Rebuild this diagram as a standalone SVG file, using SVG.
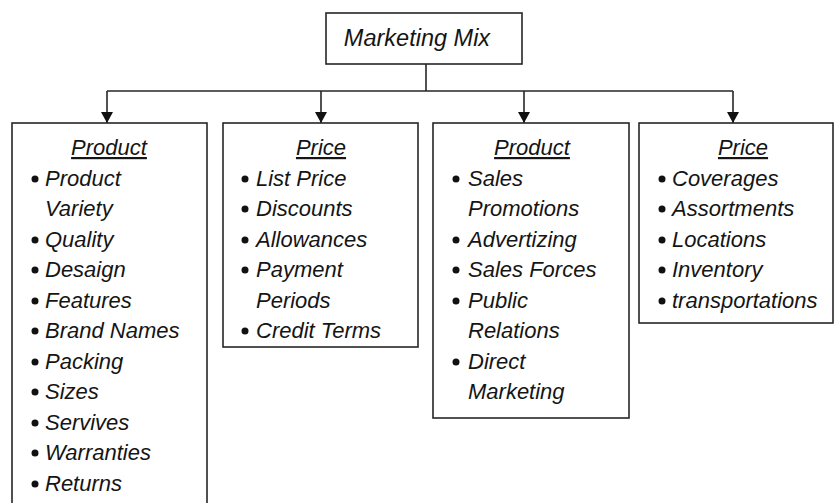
<svg xmlns="http://www.w3.org/2000/svg" width="834" height="503" viewBox="0 0 834 503">
  <style>
    .box { fill: #fff; stroke: #262626; stroke-width: 1.6; }
    .wire { fill: none; stroke: #262626; stroke-width: 1.6; }
    text { font-family: "Liberation Sans", Arial, sans-serif; font-style: italic; font-size: 22px; fill: #151515; }
    .title { font-size: 23.5px; }
    .head { text-anchor: middle; text-decoration: underline; }
    .dot { fill: #111; }
  </style>
  <defs>
    <marker id="arrow" markerWidth="11" markerHeight="12" refX="11" refY="6" orient="auto" markerUnits="userSpaceOnUse">
      <path d="M0,0 L11,6 L0,12 Z" fill="#111"/>
    </marker>
  </defs>
  <rect width="834" height="503" fill="#fff"/>

  <!-- tree wiring: stem, bus and four drops -->
  <g id="connectors">
    <line class="wire" x1="426" y1="64" x2="426" y2="91"/>
    <line class="wire" x1="107" y1="91" x2="733" y2="91"/>
    <line class="wire" x1="107" y1="91" x2="107" y2="123" marker-end="url(#arrow)"/>
    <line class="wire" x1="321" y1="91" x2="321" y2="123" marker-end="url(#arrow)"/>
    <line class="wire" x1="524" y1="91" x2="524" y2="123" marker-end="url(#arrow)"/>
    <line class="wire" x1="733" y1="91" x2="733" y2="123" marker-end="url(#arrow)"/>
  </g>

  <g id="marketing-mix">
    <rect class="box" x="326" y="13" width="196" height="51"/>
    <text class="title" x="417" y="46" text-anchor="middle">Marketing Mix</text>
  </g>

  <g id="product-1">
    <rect class="box" x="12" y="123" width="195" height="385"/>
    <text class="head" x="109" y="155">Product</text>
    <g class="dot">
      <circle cx="35" cy="179" r="3.5"/><circle cx="35" cy="240" r="3.5"/>
      <circle cx="35" cy="270" r="3.5"/><circle cx="35" cy="301" r="3.5"/>
      <circle cx="35" cy="331" r="3.5"/><circle cx="35" cy="362" r="3.5"/>
      <circle cx="35" cy="392" r="3.5"/><circle cx="35" cy="423" r="3.5"/>
      <circle cx="35" cy="453" r="3.5"/><circle cx="35" cy="484" r="3.5"/>
    </g>
    <text x="45" y="186">Product</text>
    <text x="45" y="216">Variety</text>
    <text x="45" y="247">Quality</text>
    <text x="45" y="277">Desaign</text>
    <text x="45" y="308">Features</text>
    <text x="45" y="338">Brand Names</text>
    <text x="45" y="369">Packing</text>
    <text x="45" y="399">Sizes</text>
    <text x="45" y="430">Servives</text>
    <text x="45" y="460">Warranties</text>
    <text x="45" y="491">Returns</text>
  </g>

  <g id="price-1">
    <rect class="box" x="223" y="123" width="195" height="224"/>
    <text class="head" x="321" y="155">Price</text>
    <g class="dot">
      <circle cx="245" cy="179" r="3.5"/><circle cx="245" cy="209" r="3.5"/>
      <circle cx="245" cy="240" r="3.5"/><circle cx="245" cy="270" r="3.5"/>
      <circle cx="245" cy="331" r="3.5"/>
    </g>
    <text x="256" y="186">List Price</text>
    <text x="256" y="216">Discounts</text>
    <text x="256" y="247">Allowances</text>
    <text x="256" y="277">Payment</text>
    <text x="256" y="308">Periods</text>
    <text x="256" y="338">Credit Terms</text>
  </g>

  <g id="product-2">
    <rect class="box" x="433" y="123" width="196" height="295"/>
    <text class="head" x="532" y="155">Product</text>
    <g class="dot">
      <circle cx="456" cy="179" r="3.5"/><circle cx="456" cy="240" r="3.5"/>
      <circle cx="456" cy="270" r="3.5"/><circle cx="456" cy="301" r="3.5"/>
      <circle cx="456" cy="362" r="3.5"/>
    </g>
    <text x="468" y="186">Sales</text>
    <text x="468" y="216">Promotions</text>
    <text x="468" y="247">Advertizing</text>
    <text x="468" y="277">Sales Forces</text>
    <text x="468" y="308">Public</text>
    <text x="468" y="338">Relations</text>
    <text x="468" y="369">Direct</text>
    <text x="468" y="399">Marketing</text>
  </g>

  <g id="price-2">
    <rect class="box" x="639" y="123" width="194" height="200"/>
    <text class="head" x="743" y="155">Price</text>
    <g class="dot">
      <circle cx="662" cy="179" r="3.5"/><circle cx="662" cy="209" r="3.5"/>
      <circle cx="662" cy="240" r="3.5"/><circle cx="662" cy="270" r="3.5"/>
      <circle cx="662" cy="301" r="3.5"/>
    </g>
    <text x="672" y="186">Coverages</text>
    <text x="672" y="216">Assortments</text>
    <text x="672" y="247">Locations</text>
    <text x="672" y="277">Inventory</text>
    <text x="672" y="308">transportations</text>
  </g>
</svg>
